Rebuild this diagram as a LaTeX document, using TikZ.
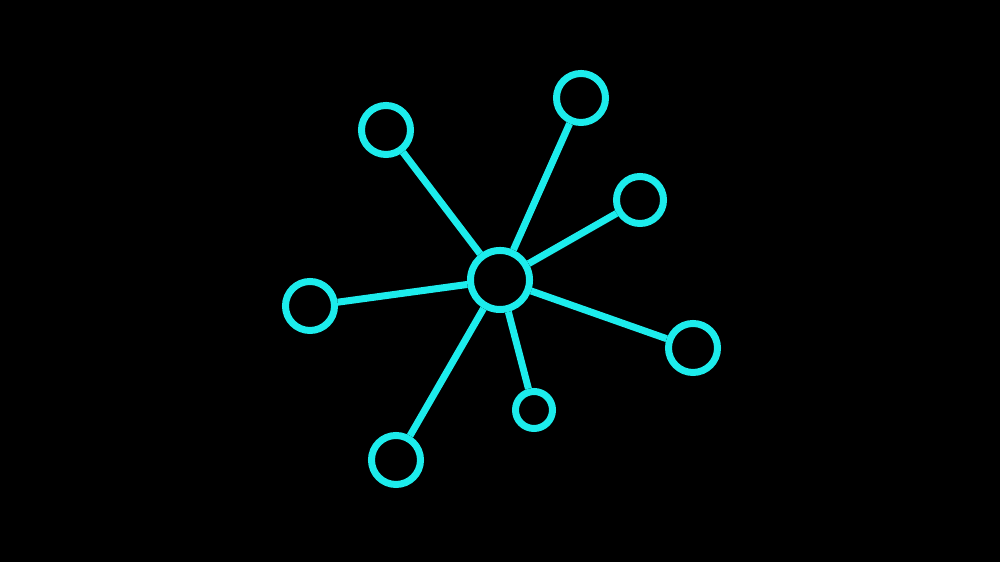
\documentclass[tikz,border=0pt]{standalone}
\usepackage{tikz}
\definecolor{netcyan}{RGB}{28,236,236}
\begin{document}
\begin{tikzpicture}[x=0.01cm,y=-0.01cm]
		\tikzstyle{every node}+=[inner sep=0pt]
		\tikzstyle{ring}=[draw=netcyan, line width=0.07cm, circle, minimum size=0.49cm]
		\tikzstyle{spoke}=[draw=netcyan, line width=0.07cm]
		\fill [black] (0,0) rectangle (1000,562);
		\useasboundingbox (0,0) rectangle (1000,562);
		\node [ring, minimum size=0.59cm] (hub) at (500,280) {};
		\node [ring] (topleft) at (386,130) {};
		\node [ring] (top) at (581,98) {};
		\node [ring, minimum size=0.47cm] (upright) at (640,200) {};
		\node [ring] (left) at (310,306) {};
		\node [ring] (right) at (693,348) {};
		\node [ring, minimum size=0.37cm] (low) at (534,410) {};
		\node [ring] (lowleft) at (396,460) {};
		\draw [spoke] (hub) -- (topleft);
		\draw [spoke] (hub) -- (top);
		\draw [spoke] (hub) -- (upright);
		\draw [spoke] (hub) -- (left);
		\draw [spoke] (hub) -- (right);
		\draw [spoke] (hub) -- (low);
		\draw [spoke] (hub) -- (lowleft);
	\end{tikzpicture}
\end{document}
